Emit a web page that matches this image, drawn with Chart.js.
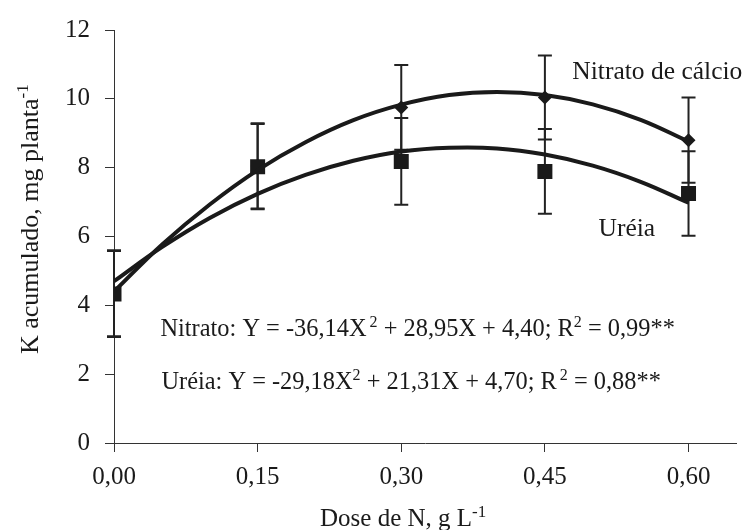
<!DOCTYPE html>
<html>
<head>
<meta charset="utf-8">
<script src="https://cdn.jsdelivr.net/npm/chart.js@4"></script>
<style>
  html, body { margin: 0; padding: 0; background: #fff; }
  #wrap { width: 747px; height: 530px; }
</style>
</head>
<body>
<div id="wrap"><canvas id="chart" width="747" height="530"></canvas></div>
<script>
/**
 * DATA
 */
const doses = [0, 0.15, 0.30, 0.45, 0.60];
const nitratoMean = [4.35, 8.05, 9.75, 10.04, 8.80];
const ureiaMean = [4.33, 8.03, 8.18, 7.89, 7.25];
const nitratoErr = [1.25, 1.24, 1.23, 1.22, 1.24];
const ureiaErr = [1.25, 1.24, 1.26, 1.23, 1.23];

// fitted curves
const fitX = [0, 0.05, 0.10, 0.15, 0.20, 0.25, 0.30, 0.35, 0.40, 0.45, 0.50, 0.55, 0.60];
const nitratoFit = [4.40, 5.76, 6.93, 7.93, 8.74, 9.38, 9.83, 10.11, 10.20, 10.11, 9.84, 9.39, 8.76];
const ureiaFit = [4.70, 5.69, 6.54, 7.24, 7.79, 8.20, 8.47, 8.58, 8.56, 8.38, 8.06, 7.59, 6.98];

const xTicks = [0, 0.15, 0.30, 0.45, 0.60];
const yTicks = [0, 2, 4, 6, 8, 10, 12];

const INK = '#1a1a1a';
const FONT = '"Liberation Serif", "Times New Roman", serif';
const FS = 25;

const pts = (xs, ys) => xs.map((x, i) => ({ x: x, y: ys[i] }));

/**
 * HELPERS
 */
function drawRich(ctx, parts, x, y, size) {
    parts.forEach(p => {
        if (p.sup) {
            ctx.font = Math.round(size * 0.66) + 'px ' + FONT;
            x += (p.gap || 0);
            ctx.fillText(p.t, x, y - size * 0.38);
        } else {
            ctx.font = size + 'px ' + FONT;
            ctx.fillText(p.t, x, y);
        }
        x += ctx.measureText(p.t).width;
    });
}

const errorBars = {
    id: 'errorBars',
    beforeDatasetsDraw(chart) {
        const { ctx, scales: { x, y } } = chart;
        ctx.save();
        ctx.strokeStyle = '#222';
        ctx.lineWidth = 2;
        [[nitratoMean, nitratoErr], [ureiaMean, ureiaErr]].forEach(([m, e]) => {
            doses.forEach((d, i) => {
                const px = x.getPixelForValue(d);
                const top = y.getPixelForValue(m[i] + e[i]);
                const bot = y.getPixelForValue(m[i] - e[i]);
                ctx.beginPath();
                ctx.moveTo(px, top); ctx.lineTo(px, bot);
                ctx.moveTo(px - 7, top); ctx.lineTo(px + 7, top);
                ctx.moveTo(px - 7, bot); ctx.lineTo(px + 7, bot);
                ctx.stroke();
            });
        });
        ctx.restore();
    }
};

const textLayer = {
    id: 'textLayer',
    afterDraw(chart) {
        const { ctx, scales: { x, y } } = chart;
        ctx.save();
        ctx.fillStyle = INK;
        ctx.textBaseline = 'alphabetic';
        ctx.textAlign = 'left';

        // series labels
        ctx.font = '25.5px ' + FONT;
        ctx.fillText('Nitrato de cálcio', x.getPixelForValue(0.4787), y.getPixelForValue(10.57));
        ctx.fillText('Uréia', x.getPixelForValue(0.506), y.getPixelForValue(6.02));

        // equations
        drawRich(ctx, [
            { t: 'Nitrato: Y = -36,14X' }, { t: '2', sup: true, gap: 3 },
            { t: ' + 28,95X + 4,40; R' }, { t: '2', sup: true },
            { t: ' = 0,99**' }
        ], x.getPixelForValue(0.0485), y.getPixelForValue(3.11), 24.4);
        drawRich(ctx, [
            { t: 'Uréia: Y = -29,18X' }, { t: '2', sup: true },
            { t: ' + 21,31X + 4,70; R' }, { t: '2', sup: true, gap: 3 },
            { t: ' = 0,88**' }
        ], x.getPixelForValue(0.0495), y.getPixelForValue(1.56), 24.4);

        // x title
        drawRich(ctx, [{ t: 'Dose de N, g L' }, { t: '-1', sup: true }], 320, 526, FS);

        // y title
        ctx.translate(38, 354);
        ctx.rotate(-Math.PI / 2);
        drawRich(ctx, [{ t: 'K acumulado, mg planta' }, { t: '-1', sup: true }], 0, 0, 26);
        ctx.restore();
    }
};

/**
 * CHART
 */
new Chart(document.getElementById('chart'), {
    type: 'scatter',
    data: {
        datasets: [
            { label: 'fit nitrato', data: pts(fitX, nitratoFit), showLine: true, tension: 0.4,
              borderColor: INK, borderWidth: 4, pointRadius: 0, fill: false },
            { label: 'fit ureia', data: pts(fitX, ureiaFit), showLine: true, tension: 0.4,
              borderColor: INK, borderWidth: 4, pointRadius: 0, fill: false },
            { label: 'Uréia', data: pts(doses, ureiaMean), pointStyle: 'rect', pointRadius: 10.6,
              backgroundColor: INK, borderColor: INK, borderWidth: 0 },
            { label: 'Nitrato de cálcio', data: pts(doses, nitratoMean), pointStyle: 'rectRot', pointRadius: 7,
              backgroundColor: INK, borderColor: INK, borderWidth: 0 }
        ]
    },
    options: {
        responsive: false,
        animation: false,
        devicePixelRatio: 1,
        layout: { padding: { top: 25, right: 10, bottom: 0, left: 0 } },
        plugins: { legend: { display: false }, tooltip: { enabled: false } },
        scales: {
            x: {
                type: 'linear', min: 0, max: 0.65,
                afterBuildTicks: s => { s.ticks = xTicks.map(v => ({ value: v })); },
                afterFit: s => { s.height = 87; },
                border: { display: true, color: '#333', width: 1 },
                grid: { drawOnChartArea: false, drawTicks: true, tickLength: 9, color: '#333' },
                ticks: {
                    color: INK, padding: 10, maxRotation: 0,
                    font: { family: FONT, size: FS },
                    callback: v => v.toFixed(2).replace('.', ',')
                }
            },
            y: {
                type: 'linear', min: 0, max: 12,
                afterBuildTicks: s => { s.ticks = yTicks.map(v => ({ value: v })); },
                afterFit: s => { s.width = 114; },
                border: { display: true, color: '#333', width: 1 },
                grid: { drawOnChartArea: false, drawTicks: true, tickLength: 9, color: '#333' },
                ticks: {
                    color: INK, padding: 15,
                    font: { family: FONT, size: FS },
                    callback: v => String(v)
                }
            }
        }
    },
    plugins: [errorBars, textLayer]
});
</script>
</body>
</html>
